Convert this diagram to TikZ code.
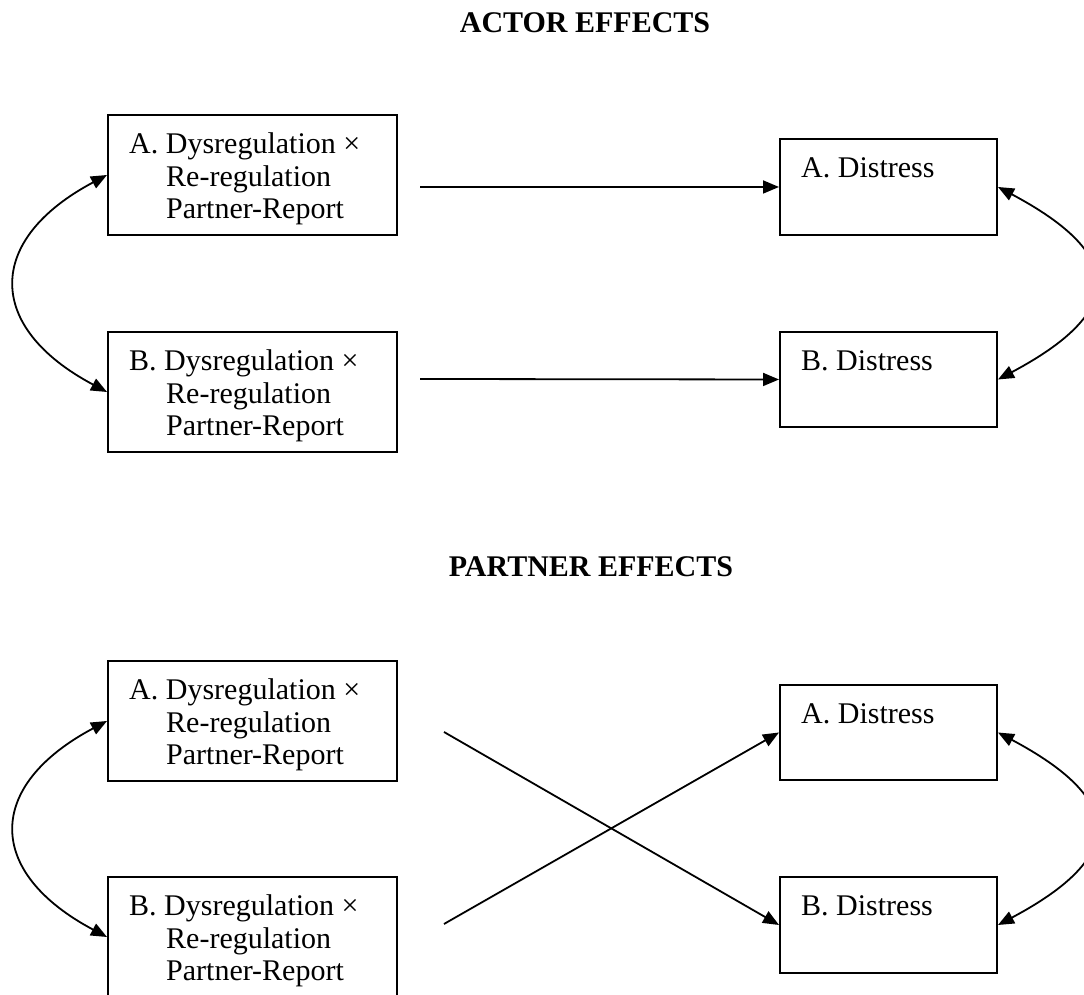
\documentclass[tikz,border=0pt]{standalone}
\usepackage{fontspec}
\setmainfont{Liberation Serif}
\usetikzlibrary{arrows.meta,calc}
\begin{document}
\begin{tikzpicture}[x=1pt,y=1pt,
  box/.style={draw,line width=2pt,inner sep=0pt,minimum width=289pt,minimum height=120pt},
  dbox/.style={draw,line width=2pt,inner sep=0pt,minimum width=217pt,minimum height=96pt},
  txt/.style={inner sep=0pt,anchor=base west,font=\fontsize{30}{33}\selectfont},
  ttl/.style={inner sep=0pt,anchor=base,font=\fontsize{30}{33}\selectfont\bfseries},
  arr/.style={line width=1.8pt,-{Triangle[length=16pt,width=13pt]}},
  darr/.style={line width=1.8pt,{Triangle[length=16pt,width=13pt]}-{Triangle[length=16pt,width=13pt]}}
]
\useasboundingbox (0,0) rectangle (1084,995);
\clip (0,0) rectangle (1084,995);
% titles
\node[ttl] (t1) at (585,962) {ACTOR EFFECTS};
\node[ttl] (t2) at (591,418) {PARTNER EFFECTS};
% actor boxes
\node[box] (a1) at (252.5,820) {};
\node[box] (b1) at (252.5,603) {};
\node[dbox] (ad1) at (888.5,808) {};
\node[dbox,minimum height=95pt] (bd1) at (888.5,615.5) {};
% partner boxes
\node[box] (a2) at (252.5,274) {};
\node[box] (b2) at (252.5,58) {};
\node[dbox,minimum height=95pt] (ad2) at (888.5,262.5) {};
\node[dbox] (bd2) at (888.5,70) {};
% texts
\foreach \n/\L in {a1/A,b1/B,a2/A,b2/B}{
  \node[txt] (\n t1) at ($(\n.north west)+(22,-40)$) {\L. Dysregulation ×};
  \node[txt] (\n t2) at ($(\n.north west)+(59,-72.5)$) {Re-regulation};
  \node[txt] (\n t3) at ($(\n.north west)+(59,-105)$) {Partner-Report};
}
\foreach \n/\L in {ad1/A,bd1/B,ad2/A,bd2/B}{
  \node[txt] (\n t) at ($(\n.north west)+(22,-40)$) {\L. Distress};
}
% straight arrows (actor)
\coordinate (s1) at (420,808);
\coordinate (s2) at (420,616);
\draw[arr] (s1) -- (ad1.west);
\draw[arr] (s2) -- (bd1.west);
% crossing arrows (partner)
\coordinate (s3) at (444,263);
\coordinate (s4) at (444,71);
\draw[arr] (s3) -- (bd2.west);
\draw[arr] (s4) -- (ad2.west);
% covariance arcs
\draw[darr] (a1.west) .. controls +(208:138) and +(152:138) .. (b1.west);
\draw[darr] (ad1.east) .. controls +(-28:145) and +(28:145) .. (bd1.east);
\draw[darr] (a2.west) .. controls +(208:138) and +(152:138) .. (b2.west);
\draw[darr] (ad2.east) .. controls +(-28:145) and +(28:145) .. (bd2.east);
\end{tikzpicture}
\end{document}
